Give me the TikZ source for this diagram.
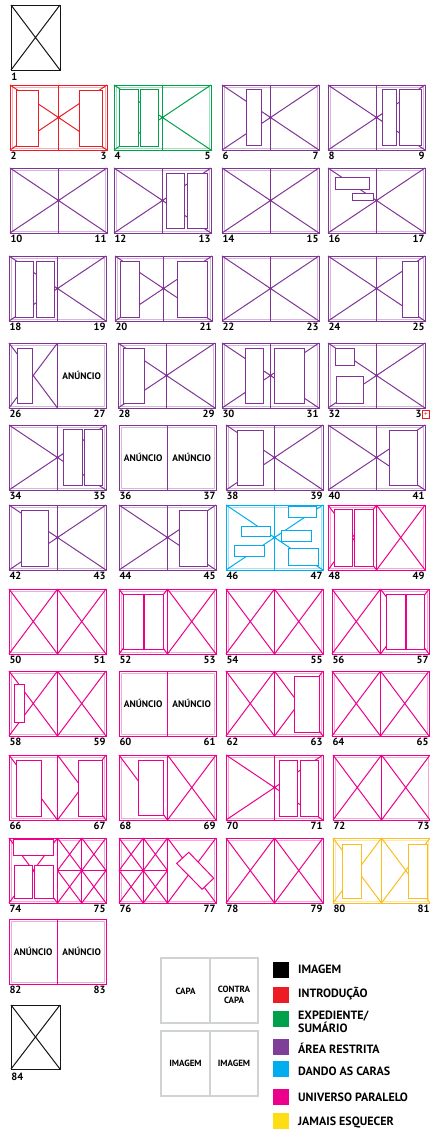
\documentclass[tikz,border=0pt]{standalone}
\usepackage{fontspec}
\setmainfont{PT Sans}
\definecolor{cBlack}{RGB}{20,20,20}
\definecolor{cRed}{RGB}{237,28,36}
\definecolor{cGreen}{RGB}{0,161,75}
\definecolor{cPurple}{RGB}{128,52,150}
\definecolor{cPurpleSq}{RGB}{127,63,152}
\definecolor{cBlue}{RGB}{0,174,239}
\definecolor{cMag}{RGB}{236,0,140}
\definecolor{cYel}{RGB}{250,190,30}
\definecolor{cYelSq}{RGB}{255,221,21}
\definecolor{cGrey}{RGB}{208,211,212}
\tikzset{
  num/.style={font=\fontsize{10.5}{10.5}\selectfont\bfseries, text=black, inner sep=0pt},
  ad/.style={font=\fontsize{9.5}{10}\selectfont\bfseries, text=black, inner sep=0pt},
  leg/.style={font=\fontsize{12}{13}\selectfont\bfseries, text=black, inner sep=0pt, anchor=west, align=left},
  gl/.style={font=\fontsize{9}{10.5}\selectfont\bfseries, text=black, inner sep=0pt, align=center},
  sp/.style={color=#1, line width=1.0pt},
}
\newcommand\spFrame{\draw (0,0) rectangle (97,65); \draw[opacity=0.35,line width=0.5pt] (1.8,1.8) rectangle (95.2,63.2); \draw (48.5,0)--(48.5,65);}
\newcommand\spFX{\draw (0,0)--(97,65) (0,65)--(97,0);}
\newcommand\spLX{\draw (0,0)--(48.5,65) (0,65)--(48.5,0);}
\newcommand\spRX{\draw (48.5,0)--(97,65) (48.5,65)--(97,0);}
\newcommand\spBox[4]{\filldraw[fill=white] (#1,#2) rectangle (#3,#4);}
\newcommand\spNums[2]{\node[num,anchor=base west] (n#1) at (0,74.5) {#1}; \node[num,anchor=base east] (n#2) at (97,74.5) {#2};}
\newcommand\spAd[2]{\node[ad] (ad#1) at (#2,32.5) {ANÚNCIO};}
\newcommand\spGrid[1]{\begin{scope}[shift={(#1,0)}]\draw (24.25,0)--(24.25,65) (0,32.5)--(48.5,32.5);
  \foreach \qx in {0,24.25}{\foreach \qy in {0,32.5}{\draw (\qx,\qy)--++(24.25,32.5) (\qx+24.25,\qy)--++(-24.25,32.5);}}\end{scope}}
\begin{document}
\begin{tikzpicture}[x=1pt,y=-1pt]
\useasboundingbox (0,0) rectangle (430,1130);

% page 1
\begin{scope}[shift={(11,5)},sp=cBlack]
  \draw (0,0) rectangle (49,65); \draw (0,0)--(49,65) (0,65)--(49,0);
  \node[num,anchor=base west] (n1) at (0,75.5) {1};
\end{scope}

% Row A
\begin{scope}[shift={(10,85)},sp=cRed]
  \spFrame \spFX \spBox{6}{5}{28}{61} \spBox{69}{5}{92}{61} \spNums{2}{3}
\end{scope}
\begin{scope}[shift={(114,85)},sp=cGreen]
  \spFrame \spFX \spBox{5}{4}{24}{61} \spBox{26}{4}{44}{61} \spNums{4}{5}
\end{scope}
\begin{scope}[shift={(222,85)},sp=cPurple]
  \spFrame \spFX \spBox{24}{4}{39}{60} \spNums{6}{7}
\end{scope}
\begin{scope}[shift={(328,85)},sp=cPurple]
  \spFrame \spFX \spBox{54}{4}{68}{60} \spBox{71}{4}{93}{60} \spNums{8}{9}
\end{scope}

% Row B
\begin{scope}[shift={(10,168)},sp=cPurple]
  \spFrame \spFX \spNums{10}{11}
\end{scope}
\begin{scope}[shift={(114,168)},sp=cPurple]
  \spFrame \spFX \spBox{52}{5}{70}{60} \spBox{73}{5}{93}{60} \spNums{12}{13}
\end{scope}
\begin{scope}[shift={(222,168)},sp=cPurple]
  \spFrame \spFX \spNums{14}{15}
\end{scope}
\begin{scope}[shift={(328,168)},sp=cPurple]
  \spFrame \spFX \spBox{7}{9}{41}{21} \spBox{24}{25}{45}{32} \spNums{16}{17}
\end{scope}

% Row C
\begin{scope}[shift={(9,256)},sp=cPurple]
  \spFrame \spFX \spBox{6}{5}{24}{61} \spBox{27}{5}{45}{61} \spNums{18}{19}
\end{scope}
\begin{scope}[shift={(115,256)},sp=cPurple]
  \spFrame \spFX \spBox{5}{5}{24}{61} \spBox{62}{5}{92}{61} \spNums{20}{21}
\end{scope}
\begin{scope}[shift={(222,256)},sp=cPurple]
  \spFrame \spFX \spNums{22}{23}
\end{scope}
\begin{scope}[shift={(328,256)},sp=cPurple]
  \spFrame \spFX \spBox{74}{5}{90}{61} \spNums{24}{25}
\end{scope}

% Row D
\begin{scope}[shift={(9,343)},sp=cPurple]
  \spFrame \spLX \spBox{8}{5}{23}{60} \spAd{27}{72.75} \spNums{26}{27}
\end{scope}
\begin{scope}[shift={(118,343)},sp=cPurple]
  \spFrame \spFX \spBox{5}{5}{26}{60} \spNums{28}{29}
\end{scope}
\begin{scope}[shift={(222,343)},sp=cPurple]
  \spFrame \spFX \spBox{23}{5}{41}{60} \spBox{52}{5}{82}{60} \spNums{30}{31}
\end{scope}
\begin{scope}[shift={(328,343)},sp=cPurple]
  \spFrame \spFX \spBox{7}{5}{26}{22} \spBox{8}{33}{35}{60}
  \node[num,anchor=base west] (n32) at (0,74.5) {32};
  \node[num,anchor=base east] (n33) at (94,74.5) {3};
\end{scope}
\draw[cRed,line width=0.6pt] (422.5,410.5) rectangle (429.5,418.5);
\node[text=cRed,inner sep=0pt,font=\fontsize{7}{7}\selectfont] (ovs) at (426,414.5) {+};

% Row E
\begin{scope}[shift={(9,425)},sp=cPurple]
  \spFrame \spFX \spBox{54}{4}{73}{60} \spBox{75}{4}{93}{60} \spNums{34}{35}
\end{scope}
\begin{scope}[shift={(119,425)},sp=cPurple]
  \spFrame \spAd{36}{24.25} \spAd{37}{72.75} \spNums{36}{37}
\end{scope}
\begin{scope}[shift={(226,425)},sp=cPurple]
  \spFrame \spFX \spBox{11}{5}{37}{60} \spNums{38}{39}
\end{scope}
\begin{scope}[shift={(328,425)},sp=cPurple]
  \spFrame \spFX \spBox{61}{5}{89}{60} \spNums{40}{41}
\end{scope}

% Row F
\begin{scope}[shift={(9,505)},sp=cPurple]
  \spFrame \spFX \spBox{12}{5}{39}{61} \spNums{42}{43}
\end{scope}
\begin{scope}[shift={(119,505)},sp=cPurple]
  \spFrame \spFX \spBox{60}{5}{88}{61} \spNums{44}{45}
\end{scope}
\begin{scope}[shift={(226,505)},sp=cBlue]
  \spFrame \spFX \spBox{15}{21}{44}{31} \spBox{8}{40}{38}{51} \spBox{62}{1.5}{90}{12}
  \spBox{55}{25}{85}{36} \spBox{62}{43}{92}{60} \spNums{46}{47}
\end{scope}
\begin{scope}[shift={(328,505)},sp=cMag]
  \spFrame \spLX \spRX \spBox{6}{4}{24}{61} \spBox{26}{4}{45}{61} \spNums{48}{49}
\end{scope}

% Row G
\begin{scope}[shift={(9,589)},sp=cMag]
  \spFrame \spLX \spRX \spNums{50}{51}
\end{scope}
\begin{scope}[shift={(119,589)},sp=cMag]
  \spFrame \spLX \spRX \spBox{4}{5}{24}{60} \spBox{25}{5}{44}{60} \spNums{52}{53}
\end{scope}
\begin{scope}[shift={(226,589)},sp=cMag]
  \spFrame \spLX \spRX \spNums{54}{55}
\end{scope}
\begin{scope}[shift={(332,589)},sp=cMag]
  \spFrame \spLX \spRX \spBox{54}{5}{73}{60} \spBox{74}{5}{92}{60} \spNums{56}{57}
\end{scope}

% Row H
\begin{scope}[shift={(9,671)},sp=cMag]
  \spFrame \spLX \spRX \spBox{5}{13}{15}{51} \spNums{58}{59}
\end{scope}
\begin{scope}[shift={(119,671)},sp=cMag]
  \spFrame \spAd{60}{24.25} \spAd{61}{72.75} \spNums{60}{61}
\end{scope}
\begin{scope}[shift={(226,671)},sp=cMag]
  \spFrame \spLX \spRX \spBox{68}{5}{93}{61} \spNums{62}{63}
\end{scope}
\begin{scope}[shift={(332,671)},sp=cMag]
  \spFrame \spLX \spRX \spNums{64}{65}
\end{scope}

% Row I
\begin{scope}[shift={(9,755)},sp=cMag]
  \spFrame \draw (0,0)--(48.5,65); \spRX \spBox{7}{5}{32}{61} \spBox{69}{5}{93}{61} \spNums{66}{67}
\end{scope}
\begin{scope}[shift={(119,755)},sp=cMag]
  \spFrame \draw (0,0)--(48.5,65); \spRX \spBox{19}{5}{44}{60} \spNums{68}{69}
\end{scope}
\begin{scope}[shift={(226,755)},sp=cMag]
  \spFrame \spFX \spBox{53}{5}{71}{61} \spBox{74}{5}{92}{61} \spNums{70}{71}
\end{scope}
\begin{scope}[shift={(333,755)},sp=cMag]
  \spFrame \spLX \spRX \spNums{72}{73}
\end{scope}

% Row J
\begin{scope}[shift={(9,838)},sp=cMag]
  \spFrame \spLX \spGrid{48.5} \spBox{4}{1.5}{44}{17} \spBox{5}{27}{23}{60} \spBox{25}{27}{44}{60} \spNums{74}{75}
\end{scope}
\begin{scope}[shift={(119,838)},sp=cMag]
  \spFrame \spGrid{0} \spRX
  \filldraw[fill=white] (69.8,14.3)--(94.7,40.2)--(83.2,51.3)--(57.7,25.4)--cycle;
  \spNums{76}{77}
\end{scope}
\begin{scope}[shift={(226,838)},sp=cMag]
  \spFrame \spLX \spRX \spNums{78}{79}
\end{scope}
\begin{scope}[shift={(333,838)},sp=cYel]
  \spFrame \spLX \spRX \spBox{9}{6}{28}{60} \spBox{75}{6}{94}{60} \spNums{80}{81}
\end{scope}

% Row K
\begin{scope}[shift={(9,919)},sp=cMag]
  \spFrame \spAd{82}{24.25} \spAd{83}{72.75} \spNums{82}{83}
\end{scope}

% page 84
\begin{scope}[shift={(11,1005)},sp=cBlack]
  \draw (0,0) rectangle (49,64); \draw (0,0)--(49,64) (0,64)--(49,0);
  \node[num,anchor=base west] (n84) at (0,75) {84};
\end{scope}

% legend spreads
\begin{scope}[cGrey,line width=1.2pt]
  \draw (161,958) rectangle (258,1023); \draw (210,958)--(210,1023);
  \draw (161,1031) rectangle (258,1096); \draw (210,1031)--(210,1096);
\end{scope}
\node[gl] (gCapa) at (185.5,991.5) {CAPA};
\node[gl] (gContra) at (234,995) {CONTRA\\CAPA};
\node[gl] (gImg1) at (185.5,1063.5) {IMAGEM};
\node[gl] (gImg2) at (234,1063.5) {IMAGEM};

% legend colours
\fill[black] (273,962) rectangle (289,978);
\fill[cRed] (273,987) rectangle (289,1003);
\fill[cGreen] (273,1011) rectangle (289,1027);
\fill[cPurpleSq] (273,1039) rectangle (289,1055);
\fill[cBlue] (273,1061) rectangle (289,1077);
\fill[cMag] (273,1089) rectangle (289,1105);
\fill[cYelSq] (273,1113) rectangle (289,1129);
\node[leg] (lgImg) at (298,969) {IMAGEM};
\node[leg] (lgIntro) at (298,994) {INTRODUÇÃO};
\node[leg] (lgExp) at (298,1021.5) {EXPEDIENTE/\\SUMÁRIO};
\node[leg] (lgArea) at (298,1048) {ÁREA RESTRITA};
\node[leg] (lgDando) at (298,1071) {DANDO AS CARAS};
\node[leg] (lgUniv) at (298,1097) {UNIVERSO PARALELO};
\node[leg] (lgJamais) at (298,1122) {JAMAIS ESQUECER};
\end{tikzpicture}
\end{document}
